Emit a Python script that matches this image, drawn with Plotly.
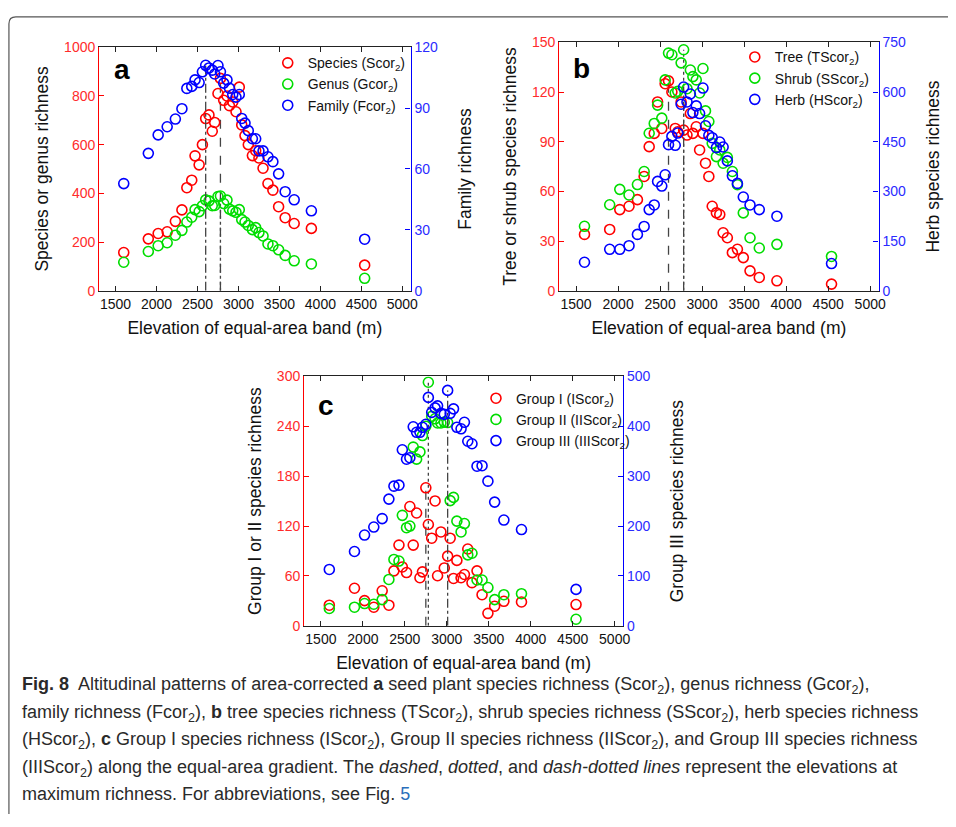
import plotly.graph_objects as go

# ---------------- data ----------------
elev = [1600, 1900, 2020, 2130, 2230, 2310, 2370, 2430, 2470, 2520, 2560, 2600, 2640, 2680,
        2710, 2750, 2780, 2820, 2860, 2890, 2930, 2970, 3010, 3040, 3080, 3120, 3170, 3210,
        3250, 3300, 3360, 3420, 3490, 3570, 3680, 3890, 4540]

species = [157, 213, 235, 242, 285, 332, 423, 454, 554, 517, 600, 707, 722, 655, 691, 810, 872,
           782, 800, 760, 775, 735, 836, 681, 637, 600, 555, 575, 545, 503, 440, 413, 345, 300,
           276, 256, 105]
genus = [117, 161, 185, 197, 228, 248, 282, 302, 333, 325, 349, 373, 369, 349, 350, 387, 389,
         358, 372, 335, 328, 322, 333, 292, 282, 268, 251, 259, 239, 225, 192, 185, 168, 145,
         123, 110, 51]
family = [52.8, 67.7, 76.8, 80.8, 84.6, 89.7, 99.7, 100.7, 103.9, 102.6, 107.9, 111.1, 109.8,
          108.7, 106.8, 111.0, 107.9, 102.3, 103.9, 99.8, 96.7, 95.4, 96.7, 84.9, 82.6, 78.9,
          74.9, 74.9, 68.9, 68.9, 66, 63.6, 57.6, 48.8, 44.8, 39.4, 25.4]

tree = [34, 37, 49, 51, 55, 69, 87, 95, 114, 98, 125, 126.7, 120, 98, 96, 114, 97, 94, 107, 95,
        99, 85, 95, 77, 69, 51, 47, 46, 35, 32, 23, 25, 20, 12, 8, 6, 4]
shrub = [38.9, 51.9, 61.2, 57.8, 64.1, 72, 95.1, 101, 112.1, 104.2, 127.3, 143.5, 142.5, 119.4,
         120.4, 137.6, 145.5, 122, 133.3, 129.3, 127.3, 119.4, 134.2, 108.6, 102.2, 89, 81, 85,
         77, 80.5, 72, 64, 47, 32, 25.8, 28, 20.7]
herb = [86, 125, 125, 136, 170, 194, 245, 259, 330, 316, 350, 441, 466, 439, 476, 563, 615, 570,
        594, 538, 558, 535, 612, 498, 469, 462, 432, 449, 434, 392, 347, 324, 283, 259, 245, 225,
        82]

group1 = [24.8, 45.2, 30.3, 22.4, 42.1, 24.8, 66.1, 97.1, 70.8, 64.1, 143.5, 97.1, 135.7, 57.8,
          64.9, 166, 121.9, 105.4, 150.2, 60.2, 112.9, 69.6, 83.8, 105.4, 57, 78.7, 57.8, 61.7,
          92.4, 51.9, 66.1, 37.4, 15, 23.6, 29.5, 28.7, 25.6]
group2 = [20.8, 22.4, 26.8, 26, 31.5, 55.8, 79.8, 77.9, 132.9, 118, 120, 215, 200.5, 209.2,
          228.9, 240, 293, 252, 249, 244, 244, 245, 244.5, 150.6, 154.5, 125.9, 112.9, 123, 85.3,
          87.3, 55.1, 55.1, 46, 31.5, 37.4, 38.6, 7.9]
group3 = [113, 149, 182, 198, 215, 254, 280, 282, 353, 334, 337, 399, 388, 388, 398, 404, 458,
          428, 437, 441, 426, 424, 472, 426, 435, 398, 395, 408, 370, 365, 320, 321, 290, 248,
          212, 193, 73]

x_ticks = [1500, 2000, 2500, 3000, 3500, 4000, 4500, 5000]
ya_left_ticks = [0, 200, 400, 600, 800, 1000]
ya_right_ticks = [0, 30, 60, 90, 120]
yb_left_ticks = [0, 30, 60, 90, 120, 150]
yb_right_ticks = [0, 150, 300, 450, 600, 750]
yc_left_ticks = [0, 60, 120, 180, 240, 300]
yc_right_ticks = [0, 100, 200, 300, 400, 500]

# ---------------- styling ----------------
W, H = 956, 827
FONT = "Liberation Sans, Arial, sans-serif"
RED, GREEN, BLUE = "#ff0000", "#00dd00", "#0000ff"
RED_T, BLUE_T = "#ff2b2b", "#2b2bff"
XTITLE = "Elevation of equal-area band (m)"


def px(v):
    return v / W


def py(v):
    return 1 - v / H


fig = go.Figure()


def add_panel(xa, legend, series):
    # peak lines first (drawn below markers)
    for name, vals, color, dash, yref in series:
        i = max(range(len(vals)), key=lambda k: vals[k])
        fig.add_trace(go.Scatter(x=[elev[i], elev[i]], y=[0, vals[i]], mode="lines",
                                 line=dict(color="#444444", width=1.3, dash=dash),
                                 xaxis=xa, yaxis=yref, showlegend=False, hoverinfo="skip"))
    for name, vals, color, dash, yref in series:
        fig.add_trace(go.Scatter(x=elev, y=vals, mode="markers", name=name,
                                 marker=dict(symbol="circle-open", size=10, color=color,
                                             line=dict(width=1.6, color=color)),
                                 xaxis=xa, yaxis=yref, legend=legend, legendgroup=name))


add_panel("x", "legend", [
    ("Species (Scor<sub>2</sub>)", species, RED, "dash", "y"),
    ("Genus (Gcor<sub>2</sub>)", genus, GREEN, "dot", "y"),
    ("Family (Fcor<sub>2</sub>)", family, BLUE, "dashdot", "y2"),
])
add_panel("x2", "legend2", [
    ("Tree (TScor<sub>2</sub>)", tree, RED, "dash", "y3"),
    ("Shrub (SScor<sub>2</sub>)", shrub, GREEN, "dot", "y3"),
    ("Herb (HScor<sub>2</sub>)", herb, BLUE, "dashdot", "y4"),
])
add_panel("x3", "legend3", [
    ("Group I (IScor<sub>2</sub>)", group1, RED, "dash", "y5"),
    ("Group II (IIScor<sub>2</sub>)", group2, GREEN, "dot", "y5"),
    ("Group III (IIIScor<sub>2</sub>)", group3, BLUE, "dashdot", "y6"),
])


def xaxis(domain, anchor):
    return dict(domain=domain, anchor=anchor, range=[1300, 5100], tickvals=x_ticks,
                showline=True, linecolor="#222222", linewidth=1, mirror="ticks",
                ticks="inside", ticklen=5, tickcolor="#222222", showgrid=False,
                zeroline=False, tickfont=dict(family=FONT, size=14, color="#111111"),
                title=dict(text=XTITLE, font=dict(family=FONT, size=17.5, color="#111111"),
                           standoff=11))


def yleft(domain, anchor, rng, ticks, title):
    return dict(domain=domain, anchor=anchor, range=rng, tickvals=ticks, showline=True,
                linecolor=RED, linewidth=1.2, ticks="inside", ticklen=5, tickcolor=RED,
                showgrid=False, zeroline=False,
                tickfont=dict(family=FONT, size=14, color=RED_T),
                title=dict(text=title, font=dict(family=FONT, size=17.5, color="#111111"),
                           standoff=10))


def yright(overlay, anchor, rng, ticks, title):
    return dict(overlaying=overlay, anchor=anchor, side="right", range=rng, tickvals=ticks,
                showline=True, linecolor=BLUE, linewidth=1.2, ticks="inside", ticklen=5,
                tickcolor=BLUE, showgrid=False, zeroline=False,
                tickfont=dict(family=FONT, size=14, color=BLUE_T),
                title=dict(text=title, font=dict(family=FONT, size=17.5, color="#111111"),
                           standoff=21))


dom_a_x = [px(100), px(414)]
dom_a_y = [py(288.3), py(40)]
dom_b_x = [px(564), px(886)]
dom_b_y = [py(288.3), py(35)]
dom_c_x = [px(306.7), px(628.3)]
dom_c_y = [py(630), py(375.7)]


def legend_cfg(x, y):
    return dict(x=px(x), y=py(y), xanchor="left", yanchor="top", bgcolor="rgba(0,0,0,0)",
                borderwidth=0, font=dict(family=FONT, size=14, color="#111111"),
                tracegroupgap=0, itemwidth=30)


caption_lines = [
    "<b>Fig. 8</b>  Altitudinal patterns of area-corrected <b>a</b> seed plant species richness (Scor<sub>2</sub>), genus richness (Gcor<sub>2</sub>),",
    "family richness (Fcor<sub>2</sub>), <b>b</b> tree species richness (TScor<sub>2</sub>), shrub species richness (SScor<sub>2</sub>), herb species richness",
    "(HScor<sub>2</sub>), <b>c</b> Group I species richness (IScor<sub>2</sub>), Group II species richness (IIScor<sub>2</sub>), and Group III species richness",
    "(IIIScor<sub>2</sub>) along the equal-area gradient. The <i>dashed</i>, <i>dotted</i>, and <i>dash-dotted lines</i> represent the elevations at",
    "maximum richness. For abbreviations, see Fig. <span style='color:#2a6ebb'>5</span>",
]
caption_y = [691, 719, 747, 775, 802]

annotations = []
for t, yy in zip(caption_lines, caption_y):
    annotations.append(dict(text=t, x=px(20), y=py(yy), xref="paper", yref="paper",
                            xanchor="left", yanchor="middle", showarrow=False, align="left",
                            font=dict(family="Liberation Sans, Arial, sans-serif",
                                      size=18, color="#2a2a2a")))
for letter, lx, ly in [("a", 113, 63), ("b", 576, 62), ("c", 319, 405)]:
    annotations.append(dict(text="<b>%s</b>" % letter, x=px(lx), y=py(ly), xref="paper",
                            yref="paper", xanchor="left", yanchor="middle", showarrow=False,
                            font=dict(family=FONT, size=28, color="#000000")))

frame_path = ("M %f,%f L %f,%f Q %f,%f %f,%f L %f,%f" % (
    px(9), py(822), px(9), py(16), px(9), py(9), px(16), py(9), px(956), py(9)))

fig.update_layout(
    width=W, height=H, autosize=False,
    margin=dict(l=0, r=0, t=0, b=0),
    paper_bgcolor="white", plot_bgcolor="white",
    showlegend=True,
    xaxis=xaxis(dom_a_x, "y"),
    yaxis=yleft(dom_a_y, "x", [0, 1000], ya_left_ticks, "Species or genus richness"),
    yaxis2=yright("y", "x", [0, 120], ya_right_ticks, "Family richness"),
    xaxis2=xaxis(dom_b_x, "y3"),
    yaxis3=yleft(dom_b_y, "x2", [0, 150], yb_left_ticks, "Tree or shrub species richness"),
    yaxis4=yright("y3", "x2", [0, 750], yb_right_ticks, "Herb species richness"),
    xaxis3=xaxis(dom_c_x, "y5"),
    yaxis5=yleft(dom_c_y, "x3", [0, 300], yc_left_ticks, "Group I or II species richness"),
    yaxis6=yright("y5", "x3", [0, 500], yc_right_ticks, "Group III species richness"),
    legend=legend_cfg(270, 40),
    legend2=legend_cfg(741, 34),
    legend3=legend_cfg(480, 382),
    annotations=annotations,
    shapes=[dict(type="path", path=frame_path, xref="paper", yref="paper",
                 line=dict(color="#555555", width=1.2))],
)

fig.write_html("out.html")
